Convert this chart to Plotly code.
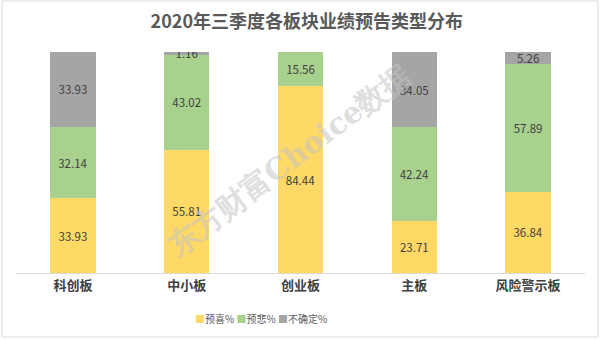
import plotly.graph_objects as go

categories = ["科创板", "中小板", "创业板", "主板", "风险警示板"]
series_names = ["预喜%", "预悲%", "不确定%"]
yuxi = [33.93, 55.81, 84.44, 23.71, 36.84]
yubei = [32.14, 43.02, 15.56, 42.24, 57.89]
buqueding = [33.93, 1.16, 0, 34.05, 5.26]
colors = ["#FFD966", "#A9D18E", "#A5A5A5"]

font_family = "Noto Sans CJK SC"

fig = go.Figure()
for name, vals, col in zip(series_names, [yuxi, yubei, buqueding], colors):
    fig.add_trace(go.Bar(
        x=categories, y=vals, name=name,
        marker=dict(color=col, line=dict(width=0)),
        text=[(f"{v:.2f}" if v > 0 else "") for v in vals],
        textposition="inside", insidetextanchor="middle",
        textfont=dict(size=11.5, color="#404040", family=font_family),
        textangle=0, constraintext="none",
        hoverinfo="skip", showlegend=False,
    ))

fig.update_layout(
    barmode="stack",
    bargap=0.6,
    width=600, height=339,
    margin=dict(l=16, r=15, t=52, b=66, autoexpand=False),
    paper_bgcolor="white", plot_bgcolor="white",
    title=dict(text="<b>2020年三季度各板块业绩预告类型分布</b>", x=(307 - 16) / 569, xanchor="center",
               y=1 - 22 / 339, yanchor="middle",
               font=dict(size=18, color="#595959", family=font_family)),
    font=dict(family=font_family),
    showlegend=False,
    uniformtext=dict(minsize=8, mode="show"),
    xaxis=dict(showline=True, linecolor="#D9D9D9", linewidth=1, ticks="",
               tickfont=dict(size=13, color="#404040", family=font_family),
               tickprefix="<b>", ticksuffix="</b>", fixedrange=True),
    yaxis=dict(range=[0, 100], visible=False, fixedrange=True),
)

# legend built from series names and colours
legend_text = " ".join(
    f"<span style='color:{c}'>■</span><span style='color:#595959'>{n}</span>"
    for n, c in zip(series_names, colors)
)
fig.add_annotation(
    text=legend_text, xref="paper", yref="paper",
    x=(261 - 16) / 569, y=-45 / 221, xanchor="center", yanchor="middle", showarrow=False,
    font=dict(size=10, family=font_family),
)

fig.add_annotation(
    text="<b>东方财富Choice数据</b>", xref="paper", yref="paper",
    x=(288 - 16) / 569, y=(273 - 160) / 221, showarrow=False, textangle=-37,
    font=dict(size=30, color="rgba(195,195,195,0.55)", family="DejaVu Serif"),
)

fig.add_shape(type="rect", xref="paper", yref="paper",
              x0=-14 / 569, x1=1 + 13 / 569, y0=-64 / 221, y1=1 + 51 / 221,
              line=dict(color="#D9D9D9", width=1))

fig.write_html("out.html")
